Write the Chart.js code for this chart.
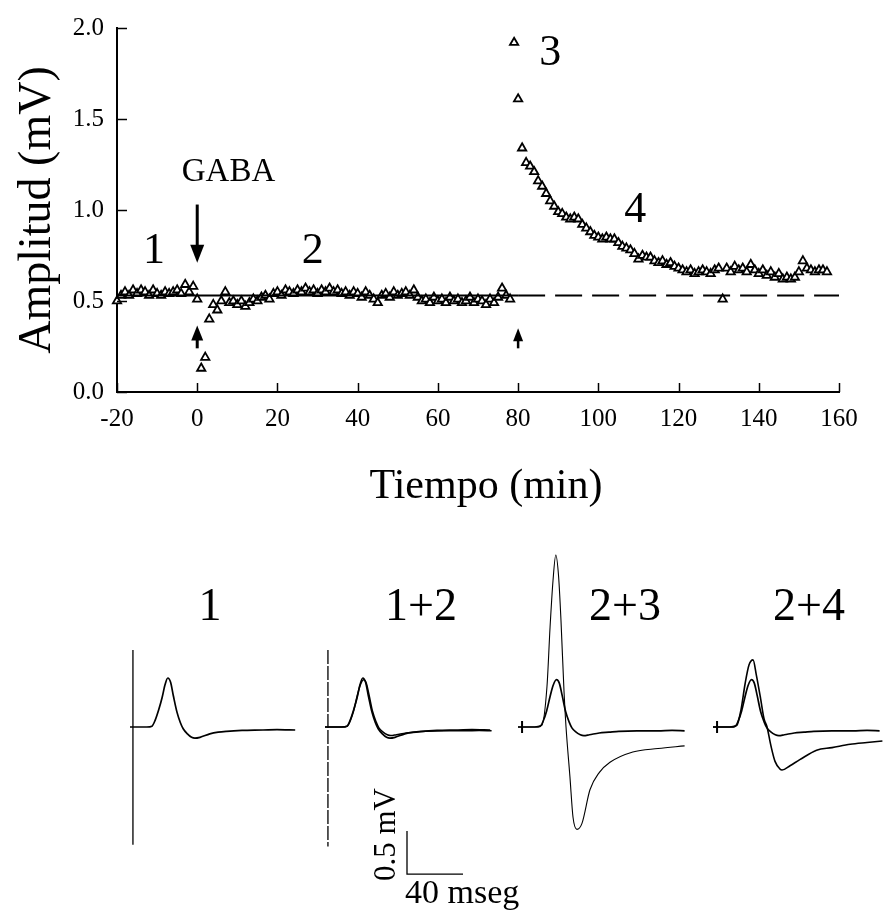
<!DOCTYPE html>
<html>
<head>
<meta charset="utf-8">
<script src="https://cdn.jsdelivr.net/npm/chart.js@4.4.1/dist/chart.umd.min.js"></script>
<style>
  html, body { margin: 0; padding: 0; background: #ffffff; }
  #lienzo { position: relative; width: 885px; height: 910px; overflow: hidden; }
  #grafica { position: absolute; left: 0; top: 0; }
  #registros { position: absolute; left: 0; top: 520px; }
</style>
</head>
<body>
<div id="lienzo">
  <canvas id="grafica" width="885" height="520"></canvas>
  <canvas id="registros" width="885" height="390"></canvas>
</div>
<script>
// ---- Amplitud del potencial frente al tiempo ----
const tiempoMin = [
  -20, -19, -18, -17, -16, -15, -14, -13, -12, -11, -10, -9, -8, -7, -6, -5, -4, -3, -2, -1,
  0, 1, 2, 3, 4, 5, 6, 7, 8, 9, 10, 11, 12, 13, 14, 15, 16, 17, 18, 19,
  20, 21, 22, 23, 24, 25, 26, 27, 28, 29, 30, 31, 32, 33, 34, 35, 36, 37, 38, 39,
  40, 41, 42, 43, 44, 45, 46, 47, 48, 49, 50, 51, 52, 53, 54, 55, 56, 57, 58, 59,
  60, 61, 62, 63, 64, 65, 66, 67, 68, 69, 70, 71, 72, 73, 74, 75, 76, 77, 78,
  79, 80, 81, 82, 83, 84, 85, 86, 87, 88, 89, 90, 91, 92, 93, 94, 95, 96, 97, 98, 99,
  100, 101, 102, 103, 104, 105, 106, 107, 108, 109, 110, 111, 112, 113, 114, 115, 116, 117, 118, 119,
  120, 121, 122, 123, 124, 125, 126, 127, 128, 129, 130, 131, 132, 133, 134, 135, 136, 137, 138, 139,
  140, 141, 142, 143, 144, 145, 146, 147, 148, 149, 150, 151, 152, 153, 154, 155, 156, 157
];
const amplitudMV = [
  0.50, 0.53, 0.55, 0.53, 0.56, 0.54, 0.56, 0.55, 0.53, 0.56, 0.54, 0.53, 0.55, 0.54, 0.55, 0.56, 0.54, 0.59, 0.55, 0.58,
  0.51, 0.13, 0.19, 0.40, 0.48, 0.45, 0.50, 0.55, 0.49, 0.50, 0.48, 0.50, 0.47, 0.49, 0.51, 0.50, 0.52, 0.53, 0.51, 0.54,
  0.55, 0.53, 0.56, 0.55, 0.54, 0.56, 0.55, 0.57, 0.55, 0.56, 0.54, 0.56, 0.55, 0.57, 0.55, 0.56, 0.54, 0.55, 0.53, 0.55,
  0.54, 0.52, 0.55, 0.53, 0.51, 0.49, 0.53, 0.54, 0.52, 0.55, 0.53, 0.54, 0.55, 0.53, 0.56, 0.52, 0.50, 0.51, 0.49, 0.52,
  0.50, 0.51, 0.49, 0.52, 0.50, 0.51, 0.49, 0.50, 0.52, 0.49, 0.51, 0.50, 0.48, 0.51, 0.49, 0.52, 0.57, 0.53, 0.51,
  1.92, 1.61, 1.34, 1.26, 1.24, 1.21, 1.16, 1.13, 1.09, 1.05, 1.02, 0.99, 0.98, 0.96, 0.95, 0.96, 0.95, 0.92, 0.90, 0.88, 0.86,
  0.85, 0.84, 0.85, 0.84, 0.84, 0.82, 0.80, 0.79, 0.78, 0.76, 0.73, 0.75, 0.74, 0.74, 0.72, 0.71, 0.72, 0.70, 0.71, 0.69,
  0.68, 0.67, 0.66, 0.67, 0.65, 0.66, 0.67, 0.66, 0.65, 0.67, 0.68, 0.51, 0.68, 0.66, 0.69, 0.67, 0.68, 0.66, 0.70, 0.67,
  0.65, 0.67, 0.64, 0.66, 0.63, 0.65, 0.62, 0.63, 0.62, 0.63, 0.66, 0.72, 0.68, 0.67, 0.66, 0.67, 0.67, 0.66
];
const nivelControl = 0.53;          // amplitud media antes de GABA (mV)
const inicioGABA = 0;               // min
const finControlSolido = 80;        // min
const valoresX = [-20, 0, 20, 40, 60, 80, 100, 120, 140, 160];
const etiquetasX = ['-20', '0', '20', '40', '60', '80', '100', '120', '140', '160'];
const valoresY = [0, 0.5, 1.0, 1.5, 2.0];
const etiquetasY = ['0.0', '0.5', '1.0', '1.5', '2.0'];

// ---- Registros de ejemplo (tiempo en ms, voltaje en mV) ----
const tRegistro1 = [0, 12, 15.7, 18, 20.5, 22.9, 25, 27, 29, 31, 33.6, 36, 38, 41, 44, 46.4, 50, 57, 63, 69, 80, 95, 105, 118];
const vRegistro1 = [0, 0, 0.01, 0.08, 0.20, 0.34, 0.49, 0.57, 0.52, 0.36, 0.17, 0.05, -0.02, -0.08, -0.12, -0.13, -0.12, -0.08, -0.06, -0.05, -0.04, -0.035, -0.03, -0.035];
const tRegistro2 = [0, 12, 16, 18, 20.5, 23, 25, 27.5, 29.5, 31.5, 34, 36.5, 38.5, 41.5, 44.5, 47, 51, 58, 65, 72, 85, 100, 110, 119];
const vRegistro2 = [0, 0, 0.01, 0.07, 0.19, 0.36, 0.48, 0.55, 0.51, 0.37, 0.18, 0.06, -0.01, -0.06, -0.09, -0.10, -0.09, -0.07, -0.06, -0.05, -0.045, -0.045, -0.04, -0.045];
const tRegistro3 = [0, 12, 17, 20.7, 22.9, 25, 27, 29, 30.7, 32.9, 34.3, 37.1, 39.3, 42.1, 45.7, 51.4, 58, 65.7, 82, 100, 119];
const vRegistro3 = [0, 0, 0.02, 0.47, 1.16, 1.70, 2.00, 1.75, 1.24, 0.40, 0, -0.58, -1.05, -1.19, -1.12, -0.73, -0.53, -0.41, -0.29, -0.25, -0.22];
const tRegistro4 = [0, 12, 17, 20, 22.9, 25.7, 28.6, 31, 34, 36.4, 38.6, 41.4, 44.3, 47.9, 49.3, 55, 62, 74, 85, 98, 110, 121];
const vRegistro4 = [0, 0, 0.02, 0.20, 0.50, 0.72, 0.78, 0.60, 0.33, 0.10, 0, -0.22, -0.40, -0.49, -0.50, -0.45, -0.38, -0.27, -0.24, -0.20, -0.18, -0.163];
const titulosPaneles = ['1', '1+2', '2+3', '2+4'];
const escalaMV = 0.5;
const escalaMS = 40;

Chart.defaults.color = '#000';
Chart.defaults.font.family = "'Liberation Serif', 'Times New Roman', serif";

const SERIF = "'Liberation Serif', 'Times New Roman', serif";

function flecha(ctx, x, yCola, yPunta, anchoCabeza, largoCabeza, grosor) {
  const dir = yPunta > yCola ? 1 : -1;
  const base = yPunta - dir * largoCabeza;
  ctx.save();
  ctx.strokeStyle = '#000';
  ctx.fillStyle = '#000';
  ctx.lineWidth = grosor;
  ctx.beginPath();
  ctx.moveTo(x, yCola);
  ctx.lineTo(x, base);
  ctx.stroke();
  ctx.beginPath();
  ctx.moveTo(x, yPunta);
  ctx.lineTo(x - anchoCabeza / 2, base - dir * 1);
  ctx.lineTo(x + anchoCabeza / 2, base - dir * 1);
  ctx.closePath();
  ctx.fill();
  ctx.restore();
}

// Marcas interiores de los ejes, flechas, rótulos de las fases y título del eje X
const decoracion = {
  id: 'decoracion',
  afterDatasetsDraw(chart) {
    const { ctx, scales: { x, y } } = chart;
    const area = chart.chartArea;
    ctx.save();
    ctx.strokeStyle = '#000';
    ctx.lineWidth = 1.5;
    valoresX.forEach(v => {
      const px = Math.round(x.getPixelForValue(v)) + 0.5;
      ctx.beginPath();
      ctx.moveTo(px, area.bottom);
      ctx.lineTo(px, area.bottom - 9);
      ctx.stroke();
    });
    valoresY.forEach(v => {
      const py = Math.round(y.getPixelForValue(v)) + 0.5;
      ctx.beginPath();
      ctx.moveTo(area.left, py);
      ctx.lineTo(area.left + 10, py);
      ctx.stroke();
    });

    // GABA: flecha descendente y flechas de inicio/fin
    const x0 = x.getPixelForValue(inicioGABA);
    flecha(ctx, x0, y.getPixelForValue(1.03), y.getPixelForValue(0.71), 14, 17, 3);
    flecha(ctx, x0, y.getPixelForValue(0.24), y.getPixelForValue(0.365), 12, 14, 3);
    const x80 = x.getPixelForValue(finControlSolido);
    flecha(ctx, x80, y.getPixelForValue(0.24), y.getPixelForValue(0.35), 10, 12, 2.5);

    ctx.fillStyle = '#000';
    ctx.textAlign = 'center';
    ctx.textBaseline = 'middle';
    ctx.font = '44px ' + SERIF;
    const rotulos = [['1', -10.8, 0.77], ['2', 28.8, 0.77], ['3', 88.0, 1.86], ['4', 109.2, 1.0]];
    rotulos.forEach(([t, tx, ty]) => ctx.fillText(t, x.getPixelForValue(tx), y.getPixelForValue(ty)));
    ctx.font = '33px ' + SERIF;
    ctx.fillText('GABA', x.getPixelForValue(7.8), y.getPixelForValue(1.205));

    ctx.font = '42px ' + SERIF;
    ctx.fillText('Tiempo (min)', (area.left + area.right) / 2 + 8, area.bottom + 95);
    ctx.restore();
  }
};

const puntos = tiempoMin.map((t, i) => ({ x: t, y: amplitudMV[i] }));

new Chart(document.getElementById('grafica'), {
  type: 'scatter',
  data: {
    datasets: [
      {
        type: 'line',
        data: [{ x: valoresX[0], y: nivelControl }, { x: finControlSolido, y: nivelControl }],
        borderColor: '#000', borderWidth: 2, pointRadius: 0, tension: 0
      },
      {
        type: 'line',
        data: [{ x: finControlSolido, y: nivelControl }, { x: valoresX[valoresX.length - 1], y: nivelControl }],
        borderColor: '#000', borderWidth: 2, borderDash: [27, 10], pointRadius: 0, tension: 0
      },
      {
        data: puntos,
        pointStyle: 'triangle',
        pointRadius: 4.8,
        backgroundColor: '#fff',
        borderColor: '#000',
        borderWidth: 1.8,
        clip: false
      }
    ]
  },
  options: {
    responsive: false,
    animation: false,
    events: [],
    layout: { padding: { left: 0, top: 24, right: 46, bottom: 0 } },
    plugins: { legend: { display: false }, tooltip: { enabled: false } },
    scales: {
      x: {
        type: 'linear',
        min: -20, max: 160,
        afterBuildTicks: s => { s.ticks = valoresX.map(v => ({ value: v })); },
        ticks: {
          callback: (v) => etiquetasX[valoresX.indexOf(v)],
          font: { size: 25, family: SERIF },
          padding: 12,
          maxRotation: 0,
          autoSkip: false
        },
        grid: { display: false, drawTicks: false },
        border: { display: true, color: '#000', width: 2 },
        title: { display: false },
        afterFit: s => { s.height = 128; }
      },
      y: {
        min: 0, max: 2,
        afterBuildTicks: s => { s.ticks = valoresY.map(v => ({ value: v })); },
        ticks: {
          callback: (v) => etiquetasY[valoresY.indexOf(v)],
          font: { size: 25, family: SERIF },
          padding: 13,
          autoSkip: false
        },
        grid: { display: false, drawTicks: false },
        border: { display: true, color: '#000', width: 2 },
        title: {
          display: true, text: 'Amplitud (mV)',
          font: { size: 46, family: SERIF, lineHeight: 1 },
          padding: { top: 15, bottom: 0 }
        },
        afterFit: s => { s.width = 117; }
      }
    }
  },
  plugins: [decoracion]
});

// ---- Panel de registros ----
const MS_POR_PX = 1 / 1.4;
const origenPaneles = [130, 325, 518, 713].map(px => px * MS_POR_PX);

function serie(ts, vs, desde) {
  return ts.map((t, i) => ({ x: t + desde, y: vs[i] }));
}
function trazo(data, grosor, extra) {
  return Object.assign({
    type: 'line', data, borderColor: '#000', borderWidth: grosor,
    pointRadius: 0, cubicInterpolationMode: 'monotone', fill: false
  }, extra || {});
}
function vertical(t, vArriba, vAbajo, desde, grosor, extra) {
  return trazo([{ x: t + desde, y: vArriba }, { x: t + desde, y: vAbajo }], grosor,
    Object.assign({ cubicInterpolationMode: 'default', tension: 0 }, extra || {}));
}

const [o1, o2, o3, o4] = origenPaneles;
const barraX = 407 * MS_POR_PX;
const barraY = -1.71;

const rotulosPanel = {
  id: 'rotulosPanel',
  afterDatasetsDraw(chart) {
    const { ctx } = chart;
    ctx.save();
    ctx.fillStyle = '#000';
    ctx.textAlign = 'center';
    ctx.textBaseline = 'middle';
    ctx.font = '46px ' + SERIF;
    const centros = [210, 421, 625, 809];
    titulosPaneles.forEach((t, i) => ctx.fillText(t, centros[i], 88));
    const { x, y } = chart.scales;
    ctx.font = '31px ' + SERIF;
    ctx.save();
    ctx.translate(x.getPixelForValue(barraX) - 20, y.getPixelForValue(barraY + escalaMV / 2) - 18);
    ctx.rotate(-Math.PI / 2);
    ctx.fillText(escalaMV + ' mV', 0, 0);
    ctx.restore();
    ctx.font = '34px ' + SERIF;
    ctx.textAlign = 'left';
    ctx.fillText(escalaMS + ' mseg', x.getPixelForValue(barraX) - 2, y.getPixelForValue(barraY) + 20);
    ctx.restore();
  }
};

new Chart(document.getElementById('registros'), {
  type: 'scatter',
  data: {
    datasets: [
      // 1
      vertical(2.1, 0.895, -1.37, o1, 1.3),
      trazo(serie(tRegistro1, vRegistro1, o1), 1.7),
      // 1+2
      vertical(2.1, 0.895, -1.39, o2, 1.3, { borderDash: [14, 2] }),
      trazo(serie(tRegistro1, vRegistro1, o2), 1.7),
      trazo(serie(tRegistro2, vRegistro2, o2), 1.5),
      // 2+3
      vertical(2.9, 0.07, -0.07, o3, 2),
      trazo(serie(tRegistro2, vRegistro2, o3), 1.7),
      trazo(serie(tRegistro3, vRegistro3, o3), 1.1),
      // 2+4
      vertical(2.9, 0.07, -0.07, o4, 2),
      trazo(serie(tRegistro2, vRegistro2, o4), 1.7),
      trazo(serie(tRegistro4, vRegistro4, o4), 1.6),
      // barra de calibración
      trazo([{ x: barraX, y: barraY + escalaMV }, { x: barraX, y: barraY }, { x: barraX + escalaMS, y: barraY }], 1.3,
        { cubicInterpolationMode: 'default', tension: 0 })
    ]
  },
  options: {
    responsive: false,
    animation: false,
    events: [],
    layout: { padding: 0 },
    plugins: { legend: { display: false }, tooltip: { enabled: false } },
    scales: {
      x: { type: 'linear', display: false, min: 0, max: 885 * MS_POR_PX },
      y: { type: 'linear', display: false, min: -183 / 86, max: 207 / 86 }
    }
  },
  plugins: [rotulosPanel]
});
</script>
</body>
</html>
